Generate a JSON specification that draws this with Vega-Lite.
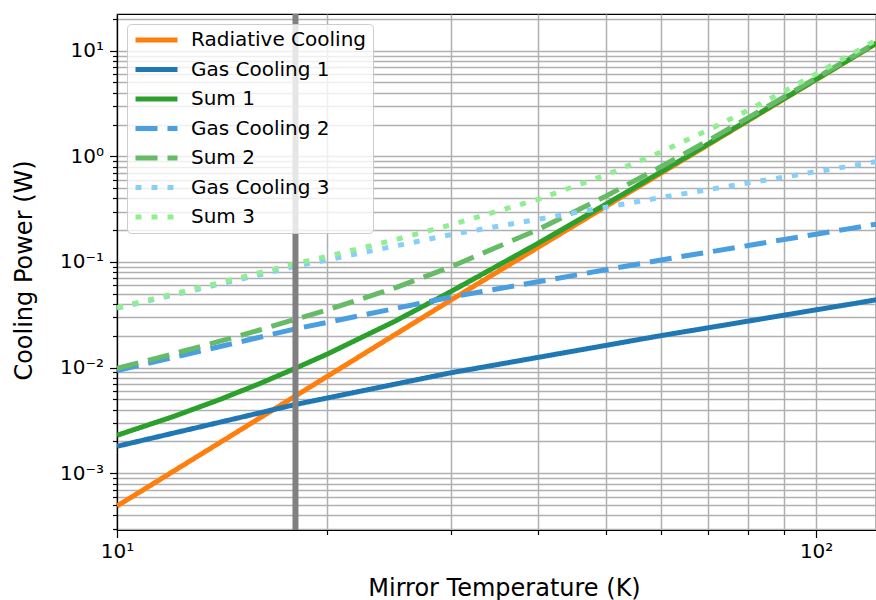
{
  "$schema": "https://vega.github.io/schema/vega-lite/v6.json",
  "width": 759,
  "height": 516,
  "autosize": {"type": "none"},
  "padding": {"left": 117, "top": 14, "right": 0, "bottom": 70},
  "background": "white",
  "config": {
    "font": "DejaVu Sans",
    "view": {"stroke": "black", "strokeWidth": 1.2},
    "axis": {
      "grid": true,
      "gridColor": "#b0b0b0",
      "gridWidth": 1.5,
      "domainColor": "black",
      "domainWidth": 1.2,
      "tickColor": "black",
      "tickWidth": 1.2,
      "labelColor": "black",
      "labelFont": "DejaVu Sans",
      "labelFontSize": 20,
      "labelOverlap": false,
      "labelFlush": false,
      "titleColor": "black",
      "titleFont": "DejaVu Sans",
      "titleFontSize": 24,
      "titleFontWeight": "normal"
    }
  },
  "layer": [
    {
      "data": {
        "values": [
          {"T": 10, "P": 0.00049, "series": "Radiative Cooling"},
          {"T": 12, "P": 0.001031, "series": "Radiative Cooling"},
          {"T": 14, "P": 0.001934, "series": "Radiative Cooling"},
          {"T": 16, "P": 0.003334, "series": "Radiative Cooling"},
          {"T": 18, "P": 0.00539, "series": "Radiative Cooling"},
          {"T": 20, "P": 0.00829, "series": "Radiative Cooling"},
          {"T": 25, "P": 0.0206, "series": "Radiative Cooling"},
          {"T": 30, "P": 0.0434, "series": "Radiative Cooling"},
          {"T": 40, "P": 0.1374, "series": "Radiative Cooling"},
          {"T": 50, "P": 0.3347, "series": "Radiative Cooling"},
          {"T": 60, "P": 0.6928, "series": "Radiative Cooling"},
          {"T": 70, "P": 1.281, "series": "Radiative Cooling"},
          {"T": 80, "P": 2.183, "series": "Radiative Cooling"},
          {"T": 90, "P": 3.494, "series": "Radiative Cooling"},
          {"T": 100, "P": 5.318, "series": "Radiative Cooling"},
          {"T": 110, "P": 7.78, "series": "Radiative Cooling"},
          {"T": 122, "P": 11.76, "series": "Radiative Cooling"},

          {"T": 10, "P": 0.0018, "series": "Gas Cooling 1"},
          {"T": 12, "P": 0.002388, "series": "Gas Cooling 1"},
          {"T": 14, "P": 0.003032, "series": "Gas Cooling 1"},
          {"T": 16, "P": 0.00373, "series": "Gas Cooling 1"},
          {"T": 18, "P": 0.00448, "series": "Gas Cooling 1"},
          {"T": 20, "P": 0.005165, "series": "Gas Cooling 1"},
          {"T": 25, "P": 0.00698, "series": "Gas Cooling 1"},
          {"T": 30, "P": 0.00893, "series": "Gas Cooling 1"},
          {"T": 40, "P": 0.0125, "series": "Gas Cooling 1"},
          {"T": 50, "P": 0.01623, "series": "Gas Cooling 1"},
          {"T": 60, "P": 0.0201, "series": "Gas Cooling 1"},
          {"T": 70, "P": 0.02381, "series": "Gas Cooling 1"},
          {"T": 80, "P": 0.02758, "series": "Gas Cooling 1"},
          {"T": 90, "P": 0.0314, "series": "Gas Cooling 1"},
          {"T": 100, "P": 0.03526, "series": "Gas Cooling 1"},
          {"T": 110, "P": 0.03915, "series": "Gas Cooling 1"},
          {"T": 122, "P": 0.0439, "series": "Gas Cooling 1"},

          {"T": 10, "P": 0.00229, "series": "Sum 1"},
          {"T": 12, "P": 0.003419, "series": "Sum 1"},
          {"T": 14, "P": 0.004966, "series": "Sum 1"},
          {"T": 16, "P": 0.007064, "series": "Sum 1"},
          {"T": 18, "P": 0.00987, "series": "Sum 1"},
          {"T": 20, "P": 0.013455, "series": "Sum 1"},
          {"T": 25, "P": 0.02758, "series": "Sum 1"},
          {"T": 30, "P": 0.05233, "series": "Sum 1"},
          {"T": 40, "P": 0.1499, "series": "Sum 1"},
          {"T": 50, "P": 0.3509, "series": "Sum 1"},
          {"T": 60, "P": 0.7129, "series": "Sum 1"},
          {"T": 70, "P": 1.3048, "series": "Sum 1"},
          {"T": 80, "P": 2.2106, "series": "Sum 1"},
          {"T": 90, "P": 3.5254, "series": "Sum 1"},
          {"T": 100, "P": 5.3533, "series": "Sum 1"},
          {"T": 110, "P": 7.8192, "series": "Sum 1"},
          {"T": 122, "P": 11.8039, "series": "Sum 1"},

          {"T": 10, "P": 0.00936, "series": "Gas Cooling 2"},
          {"T": 12, "P": 0.01242, "series": "Gas Cooling 2"},
          {"T": 14, "P": 0.01577, "series": "Gas Cooling 2"},
          {"T": 16, "P": 0.0194, "series": "Gas Cooling 2"},
          {"T": 18, "P": 0.0233, "series": "Gas Cooling 2"},
          {"T": 20, "P": 0.02686, "series": "Gas Cooling 2"},
          {"T": 25, "P": 0.0363, "series": "Gas Cooling 2"},
          {"T": 30, "P": 0.04644, "series": "Gas Cooling 2"},
          {"T": 40, "P": 0.065, "series": "Gas Cooling 2"},
          {"T": 50, "P": 0.0844, "series": "Gas Cooling 2"},
          {"T": 60, "P": 0.1045, "series": "Gas Cooling 2"},
          {"T": 70, "P": 0.1238, "series": "Gas Cooling 2"},
          {"T": 80, "P": 0.1434, "series": "Gas Cooling 2"},
          {"T": 90, "P": 0.1633, "series": "Gas Cooling 2"},
          {"T": 100, "P": 0.1834, "series": "Gas Cooling 2"},
          {"T": 110, "P": 0.2036, "series": "Gas Cooling 2"},
          {"T": 122, "P": 0.2283, "series": "Gas Cooling 2"},

          {"T": 10, "P": 0.00985, "series": "Sum 2"},
          {"T": 12, "P": 0.01345, "series": "Sum 2"},
          {"T": 14, "P": 0.0177, "series": "Sum 2"},
          {"T": 16, "P": 0.02273, "series": "Sum 2"},
          {"T": 18, "P": 0.02869, "series": "Sum 2"},
          {"T": 20, "P": 0.03515, "series": "Sum 2"},
          {"T": 25, "P": 0.0569, "series": "Sum 2"},
          {"T": 30, "P": 0.08984, "series": "Sum 2"},
          {"T": 40, "P": 0.2024, "series": "Sum 2"},
          {"T": 50, "P": 0.4191, "series": "Sum 2"},
          {"T": 60, "P": 0.7973, "series": "Sum 2"},
          {"T": 70, "P": 1.4048, "series": "Sum 2"},
          {"T": 80, "P": 2.3264, "series": "Sum 2"},
          {"T": 90, "P": 3.6573, "series": "Sum 2"},
          {"T": 100, "P": 5.5014, "series": "Sum 2"},
          {"T": 110, "P": 7.9836, "series": "Sum 2"},
          {"T": 122, "P": 11.9883, "series": "Sum 2"},

          {"T": 10, "P": 0.03654, "series": "Gas Cooling 3"},
          {"T": 12, "P": 0.04848, "series": "Gas Cooling 3"},
          {"T": 14, "P": 0.06155, "series": "Gas Cooling 3"},
          {"T": 16, "P": 0.07572, "series": "Gas Cooling 3"},
          {"T": 18, "P": 0.09094, "series": "Gas Cooling 3"},
          {"T": 20, "P": 0.1048, "series": "Gas Cooling 3"},
          {"T": 25, "P": 0.1417, "series": "Gas Cooling 3"},
          {"T": 30, "P": 0.1813, "series": "Gas Cooling 3"},
          {"T": 40, "P": 0.2538, "series": "Gas Cooling 3"},
          {"T": 50, "P": 0.3295, "series": "Gas Cooling 3"},
          {"T": 60, "P": 0.408, "series": "Gas Cooling 3"},
          {"T": 70, "P": 0.4833, "series": "Gas Cooling 3"},
          {"T": 80, "P": 0.5599, "series": "Gas Cooling 3"},
          {"T": 90, "P": 0.6374, "series": "Gas Cooling 3"},
          {"T": 100, "P": 0.7158, "series": "Gas Cooling 3"},
          {"T": 110, "P": 0.7947, "series": "Gas Cooling 3"},
          {"T": 122, "P": 0.8912, "series": "Gas Cooling 3"},

          {"T": 10, "P": 0.03703, "series": "Sum 3"},
          {"T": 12, "P": 0.04951, "series": "Sum 3"},
          {"T": 14, "P": 0.06348, "series": "Sum 3"},
          {"T": 16, "P": 0.07905, "series": "Sum 3"},
          {"T": 18, "P": 0.09633, "series": "Sum 3"},
          {"T": 20, "P": 0.1131, "series": "Sum 3"},
          {"T": 25, "P": 0.1623, "series": "Sum 3"},
          {"T": 30, "P": 0.2247, "series": "Sum 3"},
          {"T": 40, "P": 0.3912, "series": "Sum 3"},
          {"T": 50, "P": 0.6642, "series": "Sum 3"},
          {"T": 60, "P": 1.1008, "series": "Sum 3"},
          {"T": 70, "P": 1.7643, "series": "Sum 3"},
          {"T": 80, "P": 2.7429, "series": "Sum 3"},
          {"T": 90, "P": 4.1314, "series": "Sum 3"},
          {"T": 100, "P": 6.0338, "series": "Sum 3"},
          {"T": 110, "P": 8.5747, "series": "Sum 3"},
          {"T": 122, "P": 12.6512, "series": "Sum 3"}
        ]
      },
      "mark": {"type": "line", "strokeWidth": 5, "clip": true},
      "encoding": {
        "x": {
          "field": "T",
          "type": "quantitative",
          "scale": {"type": "log", "domain": [10, 121.8], "nice": false},
          "axis": {
            "title": "Mirror Temperature (K)",
            "values": [10, 20, 30, 40, 50, 60, 70, 80, 90, 100],
            "labelExpr": "datum.value == 10 ? '10¹' : datum.value == 100 ? '10²' : ''",
            "tickSize": {"condition": {"test": "datum.value == 10 || datum.value == 100", "value": 7.5}, "value": 4.5},
            "labelPadding": 4,
            "titleX": 387,
            "titleY": 65,
            "titleAlign": "center",
            "titleBaseline": "alphabetic"
          }
        },
        "y": {
          "field": "P",
          "type": "quantitative",
          "scale": {"type": "log", "domain": [0.0002906, 22.25], "nice": false},
          "axis": {
            "title": "Cooling Power (W)",
            "values": [0.0003, 0.0004, 0.0005, 0.0006, 0.0007, 0.0008, 0.0009, 0.001, 0.002, 0.003, 0.004, 0.005, 0.006, 0.007, 0.008, 0.009, 0.01, 0.02, 0.03, 0.04, 0.05, 0.06, 0.07, 0.08, 0.09, 0.1, 0.2, 0.3, 0.4, 0.5, 0.6, 0.7, 0.8, 0.9, 1, 2, 3, 4, 5, 6, 7, 8, 9, 10, 20],
            "labelExpr": "datum.value == 10 ? '10¹' : datum.value == 1 ? '10⁰' : datum.value == 0.1 ? '10⁻¹' : datum.value == 0.01 ? '10⁻²' : datum.value == 0.001 ? '10⁻³' : ''",
            "tickSize": {"condition": {"test": "datum.value == 10 || datum.value == 1 || datum.value == 0.1 || datum.value == 0.01 || datum.value == 0.001", "value": 7.5}, "value": 4.5},
            "labelPadding": 6,
            "titleX": -86,
            "titleY": 256,
            "titleAngle": 270,
            "titleAlign": "center",
            "titleBaseline": "alphabetic"
          }
        },
        "color": {
          "field": "series",
          "type": "nominal",
          "sort": ["Radiative Cooling", "Gas Cooling 1", "Sum 1", "Gas Cooling 2", "Sum 2", "Gas Cooling 3", "Sum 3"],
          "scale": {
            "domain": ["Radiative Cooling", "Gas Cooling 1", "Sum 1", "Gas Cooling 2", "Sum 2", "Gas Cooling 3", "Sum 3"],
            "range": ["#ff7f0e", "#1f77b4", "#2ca02c", "#4a9fe0", "#66bb66", "#87cefa", "#90ee90"]
          },
          "legend": {
            "title": null,
            "orient": "none",
            "legendX": 10,
            "legendY": 10,
            "symbolType": "stroke",
            "symbolSize": 1764,
            "symbolStrokeWidth": 5,
            "clipHeight": 20,
            "rowPadding": 9.5,
            "labelOffset": 11,
            "labelFontSize": 20,
            "labelFont": "DejaVu Sans",
            "labelColor": "black",
            "labelLimit": 400,
            "padding": 6,
            "strokeColor": "#cccccc",
            "fillColor": "rgba(255,255,255,0.8)",
            "cornerRadius": 4
          }
        },
        "strokeDash": {
          "field": "series",
          "type": "nominal",
          "sort": ["Radiative Cooling", "Gas Cooling 1", "Sum 1", "Gas Cooling 2", "Sum 2", "Gas Cooling 3", "Sum 3"],
          "scale": {
            "domain": ["Radiative Cooling", "Gas Cooling 1", "Sum 1", "Gas Cooling 2", "Sum 2", "Gas Cooling 3", "Sum 3"],
            "range": [[1, 0], [1, 0], [1, 0], [22, 10], [22, 10], [6, 10], [6, 10]]
          },
          "legend": {
            "title": null,
            "orient": "none",
            "legendX": 10,
            "legendY": 10,
            "symbolType": "stroke",
            "symbolSize": 1764,
            "symbolStrokeWidth": 5,
            "clipHeight": 20,
            "rowPadding": 9.5,
            "labelOffset": 11,
            "labelFontSize": 20,
            "labelFont": "DejaVu Sans",
            "labelColor": "black",
            "labelLimit": 400,
            "padding": 6,
            "strokeColor": "#cccccc",
            "fillColor": "rgba(255,255,255,0.8)",
            "cornerRadius": 4
          }
        }
      }
    },
    {
      "data": {"values": [{"T": 18}]},
      "mark": {"type": "rule", "color": "#808080", "strokeWidth": 6},
      "encoding": {"x": {"field": "T", "type": "quantitative"}}
    }
  ]
}
